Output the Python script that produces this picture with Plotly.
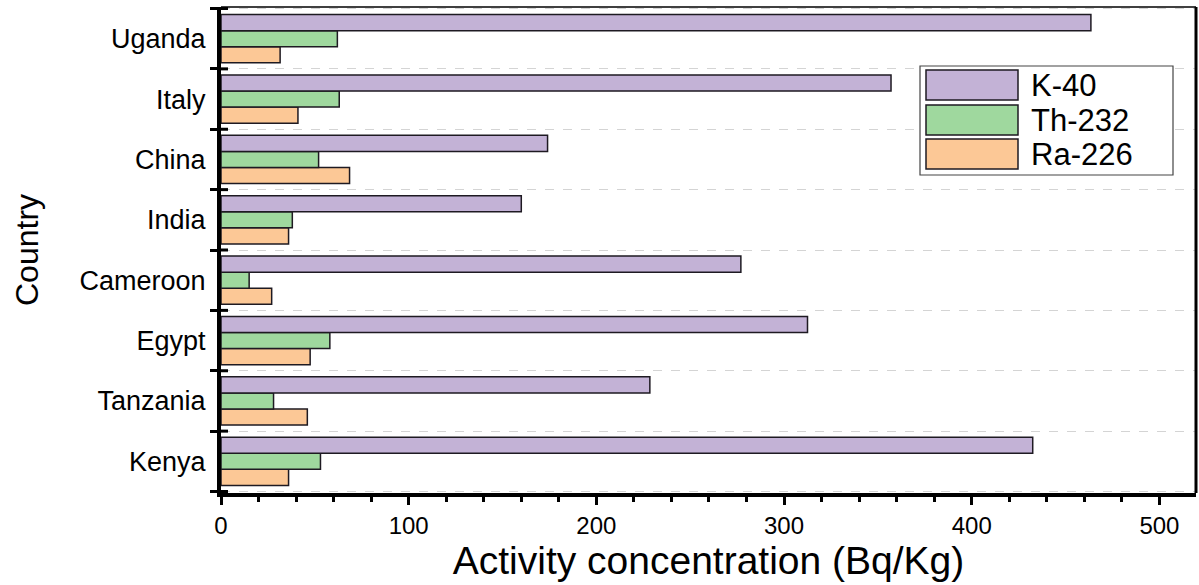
import plotly.graph_objects as go

# Countries listed bottom-to-top as they appear on the category axis
countries = ["Kenya", "Tanzania", "Egypt", "Cameroon", "India", "China", "Italy", "Uganda"]

# Activity concentrations (Bq/Kg)
k40 = [432.5, 228.5, 312.5, 277, 160, 174, 357, 463.5]
th232 = [53, 28, 58, 15, 38, 52, 63, 62]
ra226 = [36, 46, 47.5, 27, 36, 68.5, 41, 31.5]

series_names = ["K-40", "Th-232", "Ra-226"]
series_colors = ["#C3B2D6", "#9FD89E", "#FCC896"]

x_ticks = [0, 100, 200, 300, 400, 500]

W, H = 1199, 585
ML, MR, MT, MB = 221, 3, 7, 92
PW, PH = W - ML - MR, H - MT - MB
FONT = "Liberation Sans, Arial, sans-serif"


def px_x(px):
    return (px - ML) / PW


def px_y(py):
    return 1 - (py - MT) / PH


fig = go.Figure()

# Grouped horizontal bars: first trace sits lowest in each group
for name, vals, col in zip(series_names[::-1],
                           [ra226, th232, k40],
                           series_colors[::-1]):
    fig.add_trace(go.Bar(
        y=countries, x=vals, name=name, orientation="h",
        marker=dict(color=col, line=dict(color="#1e1a22", width=1.5)),
        showlegend=False,
    ))

fig.update_layout(
    width=W, height=H,
    margin=dict(l=ML, r=MR, t=MT, b=MB),
    paper_bgcolor="white", plot_bgcolor="white",
    barmode="group", bargap=0.2, bargroupgap=0.0,
    font=dict(family=FONT, color="black"),
)

fig.update_xaxes(
    range=[0, 519.5], tickvals=x_ticks,
    ticks="outside", ticklen=8, tickwidth=3, tickcolor="black",
    minor=dict(dtick=20, ticks="outside", ticklen=5, tickwidth=2.5, tickcolor="black", showgrid=False),
    showline=True, linewidth=4, linecolor="black",
    showgrid=False, zeroline=False,
    tickfont=dict(size=24, family=FONT),
    ticklabelstandoff=0,
    title=dict(text="Activity concentration (Bq/Kg)", font=dict(size=39, family=FONT), standoff=4),
)

fig.update_yaxes(
    categoryorder="array", categoryarray=countries,
    tickson="boundaries",
    ticks="outside", ticklen=7, tickwidth=3, tickcolor="black",
    showline=True, linewidth=4, linecolor="black",
    showgrid=True, gridcolor="#d4d4d4", griddash="dash", gridwidth=1,
    tickfont=dict(size=27, family=FONT),
    ticklabelstandoff=6,
    title=dict(text="Country", font=dict(size=32, family=FONT), standoff=32),
)

shapes = []
# inner half of the crossing category-boundary ticks
for i in range(len(countries) + 1):
    shapes.append(dict(type="line", xref="paper", yref="y",
                       x0=0, x1=7 / PW, y0=i - 0.5, y1=i - 0.5,
                       line=dict(color="black", width=3)))
# frame: thin top edge, heavier right edge
shapes.append(dict(type="line", xref="paper", yref="paper", x0=0, x1=1, y0=1, y1=1,
                   line=dict(color="black", width=1.5)))
shapes.append(dict(type="line", xref="paper", yref="paper", x0=1, x1=1, y0=0, y1=1,
                   line=dict(color="black", width=3)))

# legend box with large swatches
shapes.append(dict(type="rect", xref="paper", yref="paper",
                   x0=px_x(920), x1=px_x(1173), y0=px_y(175), y1=px_y(66),
                   fillcolor="white", line=dict(color="#444", width=1.2)))
annotations = []
row_tops = [70, 105, 139]
for name, col, top in zip(series_names, series_colors, row_tops):
    shapes.append(dict(type="rect", xref="paper", yref="paper",
                       x0=px_x(926), x1=px_x(1018), y0=px_y(top + 30), y1=px_y(top),
                       fillcolor=col, line=dict(color="#1e1a22", width=1.5)))
    annotations.append(dict(xref="paper", yref="paper", x=px_x(1029), y=px_y(top + 15),
                            xanchor="left", yanchor="middle", text=name, showarrow=False,
                            height=32, valign="middle",
                            font=dict(size=31, family=FONT, color="black")))

fig.update_layout(shapes=shapes, annotations=annotations)

fig.write_html("out.html")
